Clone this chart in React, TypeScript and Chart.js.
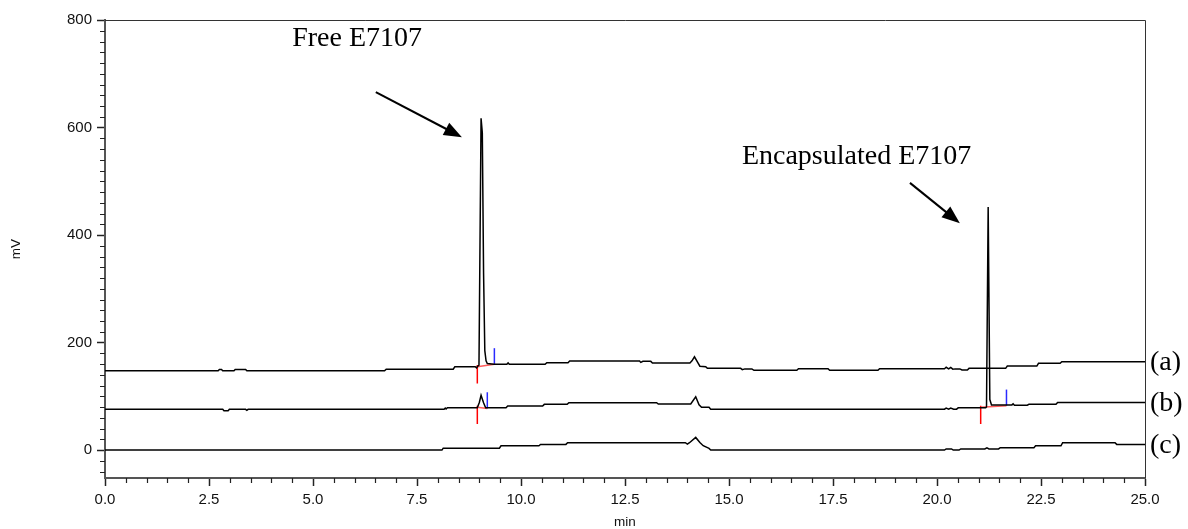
import { useEffect, useRef } from 'react';
import { Chart, registerables } from 'chart.js';

Chart.register(...registerables);

// Retention time (min) and detector signal (mV) for the three chromatograms
const traceATime = [
  0, 2.72, 2.75, 2.8, 2.83, 3.1, 3.13, 3.38, 3.41, 6.72,
  6.76, 8.37, 8.41, 8.9, 8.93, 8.96, 8.99, 9.04, 9.07, 9.1,
  9.13, 9.16, 9.19, 9.35, 9.66, 9.69, 9.72, 10.58, 10.62, 11.13,
  11.17, 12.85, 12.88, 12.93, 12.97, 13.12, 13.16, 14.06, 14.11, 14.17,
  14.24, 14.3, 14.44, 14.48, 15.28, 15.32, 15.38, 15.55, 15.6, 16.63,
  16.67, 17.38, 17.42, 18.58, 18.62, 20.18, 20.22, 20.28, 20.33, 20.38,
  20.44, 20.55, 20.6, 20.73, 20.77, 21.65, 21.69, 22.4, 22.44, 22.96,
  23.0, 25,
];
const traceAValue = [
  147.5, 147.5, 150, 150, 147.5, 147.5, 150, 150, 147.5, 147.5,
  150.5, 150.5, 155, 155, 153, 156, 158, 617, 590, 330,
  185, 166, 161, 159.5, 159.5, 162, 159.5, 159.5, 162.4, 162.4,
  165.6, 165.6, 163, 165, 165, 165, 162, 162, 166, 173.5,
  164, 156, 155, 152, 152, 149.5, 151, 151, 148.3, 148.3,
  151.3, 151.3, 148.3, 148.3, 151.3, 151.3, 154, 151, 153.5, 150.5,
  151, 151, 149, 149, 152, 152, 156.3, 156.3, 161.3, 161.3,
  164.3, 164.3,
];

const traceBTime = [
  0, 2.83, 2.86, 2.96, 2.99, 3.38, 3.41, 3.44, 8.15, 8.18,
  8.2, 8.23, 8.95, 9.0, 9.04, 9.1, 9.15, 9.64, 9.68, 10.52,
  10.56, 11.11, 11.15, 13.26, 13.3, 14.08, 14.2, 14.28, 14.34, 14.52,
  14.56, 20.18, 20.22, 20.28, 20.33, 20.4, 20.47, 20.51, 21.17, 21.19,
  21.23, 21.27, 21.31, 21.8, 21.83, 21.86, 22.17, 22.21, 22.86, 22.9,
  25,
];
const traceBValue = [
  75.7, 75.7, 73, 73, 75.7, 75.7, 74, 75.7, 75.7, 78,
  76.5, 78.7, 78.7, 89, 102, 88, 78.7, 78.7, 81.9, 81.9,
  85, 85, 88, 88, 85.6, 85.6, 99, 84, 79.4, 79.4,
  75.7, 76, 78, 76, 78, 76, 76, 78.5, 78.5, 80,
  452, 94, 84, 84, 86, 83.5, 83.5, 85, 85, 88.6,
  88.6,
];

const traceCTime = [
  0, 8.1, 8.13, 9.48, 9.52, 10.43, 10.47, 11.08, 11.12, 13.95,
  14.0, 14.05, 14.2, 14.3, 14.38, 14.52, 14.56, 20.18, 20.22, 20.35,
  20.39, 20.53, 20.57, 21.15, 21.2, 21.25, 21.48, 21.52, 22.33, 22.37,
  22.98, 23.02, 24.28, 24.32, 25,
];
const traceCValue = [
  0, 0, 3.5, 3.5, 8, 8, 10.5, 10.5, 13.6, 13.6,
  11, 13.6, 23.5, 14, 8, 3, 0, 0, 2, 2,
  0, 0, 2, 2, 4, 2, 2, 4.3, 4.3, 8,
  8, 13.6, 13.6, 10.5, 10.5,
];

const traceLabels = ['(a)', '(b)', '(c)'];

// Integration marks: peak start (red) and end (blue) with their baseline levels
const peakStart = [8.95, 8.95, 21.05];
const peakStartLevel = [155, 79.4, 79.4];
const peakEnd = [9.36, 9.19, 21.67];
const peakEndLevel = [159.5, 77.5, 82.5];

// Axis ticks
const xMajorTicks = [0, 2.5, 5, 7.5, 10, 12.5, 15, 17.5, 20, 22.5, 25];
const yMajorTicks = [0, 200, 400, 600, 800];

// Peak callouts, anchored in data units (min, mV)
const calloutText = ['Free E7107', 'Encapsulated E7107'];
const calloutTextAt = [[4.5, 752], [15.31, 533]];
const calloutArrowFrom = [[6.51, 666], [19.35, 497]];
const calloutArrowTo = [[8.58, 582], [20.55, 422]];

const SANS = '"Liberation Sans", Arial, Helvetica, sans-serif';
const SERIF = '"Liberation Serif", "Times New Roman", serif';

function toPoints(t: number[], v: number[]) {
  return t.map((x, i) => ({ x, y: v[i] }));
}

const overlayPlugin = {
  id: 'chromOverlay',
  afterDraw(chart: any) {
    const { ctx, chartArea, scales } = chart;
    const xs = scales.x;
    const ys = scales.y;
    ctx.save();

    // closing frame on top and right
    ctx.strokeStyle = '#333';
    ctx.lineWidth = 1;
    ctx.beginPath();
    ctx.moveTo(chartArea.left, Math.round(chartArea.top) + 0.5);
    ctx.lineTo(Math.round(chartArea.right) + 0.5, Math.round(chartArea.top) + 0.5);
    ctx.lineTo(Math.round(chartArea.right) + 0.5, chartArea.bottom);
    ctx.stroke();

    // minor ticks
    ctx.strokeStyle = '#222';
    ctx.lineWidth = 1.2;
    ctx.beginPath();
    for (let v = -40; v <= 780; v += 20) {
      if (v % 200 === 0) continue;
      const py = Math.round(ys.getPixelForValue(v)) + 0.5;
      ctx.moveTo(chartArea.left - 5, py);
      ctx.lineTo(chartArea.left, py);
    }
    for (let k = 1; k < 50; k++) {
      if (k % 5 === 0) continue;
      const px = Math.round(xs.getPixelForValue(k * 0.5)) + 0.5;
      ctx.moveTo(px, chartArea.bottom);
      ctx.lineTo(px, chartArea.bottom + 5);
    }
    ctx.stroke();

    // trace labels at the right end of each chromatogram
    const ends = [
      traceAValue[traceAValue.length - 1],
      traceBValue[traceBValue.length - 1],
      traceCValue[traceCValue.length - 1],
    ];
    ctx.fillStyle = '#000';
    ctx.font = `28px ${SERIF}`;
    ctx.textAlign = 'left';
    ctx.textBaseline = 'middle';
    traceLabels.forEach((lab, i) => {
      ctx.fillText(lab, chartArea.right + 5, ys.getPixelForValue(ends[i]) + 1);
    });

    // callouts
    ctx.textBaseline = 'alphabetic';
    calloutText.forEach((txt, i) => {
      ctx.fillStyle = '#000';
      ctx.fillText(txt, xs.getPixelForValue(calloutTextAt[i][0]), ys.getPixelForValue(calloutTextAt[i][1]));
      const sx = xs.getPixelForValue(calloutArrowFrom[i][0]);
      const sy = ys.getPixelForValue(calloutArrowFrom[i][1]);
      const tx = xs.getPixelForValue(calloutArrowTo[i][0]);
      const ty = ys.getPixelForValue(calloutArrowTo[i][1]);
      const len = Math.hypot(tx - sx, ty - sy);
      const ux = (tx - sx) / len;
      const uy = (ty - sy) / len;
      const head = 18;
      const half = 7;
      const bx = tx - ux * head;
      const by = ty - uy * head;
      ctx.strokeStyle = '#000';
      ctx.lineWidth = 2;
      ctx.beginPath();
      ctx.moveTo(sx, sy);
      ctx.lineTo(bx + ux * 2, by + uy * 2);
      ctx.stroke();
      ctx.beginPath();
      ctx.moveTo(tx, ty);
      ctx.lineTo(bx - uy * half, by + ux * half);
      ctx.lineTo(bx + uy * half, by - ux * half);
      ctx.closePath();
      ctx.fill();
    });

    ctx.restore();
  },
};

export default function App() {
  const canvasRef = useRef<HTMLCanvasElement | null>(null);

  useEffect(() => {
    if (!canvasRef.current) return;

    const traceStyle = {
      showLine: true,
      borderColor: '#000',
      borderWidth: 1.5,
      pointRadius: 0,
      tension: 0,
      order: 0,
    };

    const markStyle = {
      showLine: true,
      borderWidth: 1.5,
      pointRadius: 0,
      tension: 0,
      order: 1,
    };

    const marks: any[] = [];
    peakStart.forEach((t0, i) => {
      const t1 = peakEnd[i];
      const l0 = peakStartLevel[i];
      const l1 = peakEndLevel[i];
      marks.push({ ...markStyle, borderColor: '#ff5a5a', data: [{ x: t0, y: l0 }, { x: t1, y: l1 }] });
      marks.push({ ...markStyle, borderColor: '#ff0000', data: [{ x: t0, y: l0 + 3 }, { x: t0, y: l0 - 31 }] });
      marks.push({ ...markStyle, borderColor: '#2a2aff', data: [{ x: t1, y: l1 }, { x: t1, y: l1 + 30 }] });
    });

    const chart = new Chart(canvasRef.current, {
      type: 'scatter',
      data: {
        datasets: [
          { ...traceStyle, label: '(a)', data: toPoints(traceATime, traceAValue) },
          { ...traceStyle, label: '(b)', data: toPoints(traceBTime, traceBValue) },
          { ...traceStyle, label: '(c)', data: toPoints(traceCTime, traceCValue) },
          ...marks,
        ],
      },
      options: {
        responsive: false,
        animation: false,
        events: [],
        devicePixelRatio: 1,
        layout: { padding: { top: 20, right: 43, bottom: 0, left: 0 } },
        plugins: { legend: { display: false }, tooltip: { enabled: false } },
        scales: {
          x: {
            type: 'linear',
            min: 0,
            max: 25,
            afterBuildTicks: (s: any) => {
              s.ticks = xMajorTicks.map((value) => ({ value }));
            },
            afterFit: (s: any) => {
              s.height = 51;
            },
            ticks: {
              callback: (v: any) => Number(v).toFixed(1),
              font: { family: SANS, size: 15 },
              color: '#111',
              padding: 5,
              maxRotation: 0,
              autoSkip: false,
            },
            grid: { drawOnChartArea: false, tickLength: 8, tickColor: '#222', tickWidth: 1.5 },
            border: { display: true, color: '#555', width: 2 },
            title: {
              display: true,
              text: 'min',
              color: '#111',
              font: { family: SANS, size: 13.5, lineHeight: 1 },
              padding: { top: 0, bottom: 0 },
            },
          },
          y: {
            type: 'linear',
            min: -52,
            max: 800,
            afterBuildTicks: (s: any) => {
              s.ticks = yMajorTicks.map((value) => ({ value }));
            },
            afterFit: (s: any) => {
              s.width = 105;
            },
            ticks: {
              font: { family: SANS, size: 15 },
              color: '#111',
              padding: 5,
            },
            grid: { drawOnChartArea: false, tickLength: 8, tickColor: '#222', tickWidth: 1.5 },
            border: { display: true, color: '#555', width: 2 },
            title: {
              display: true,
              text: 'mV',
              color: '#111',
              font: { family: SANS, size: 13.5, lineHeight: 1 },
              padding: { top: 10, bottom: 0 },
            },
          },
        },
      },
      plugins: [overlayPlugin],
    } as any);

    return () => chart.destroy();
  }, []);

  return (
    <div style={{ position: 'absolute', left: 0, top: 0, width: 1188, height: 529, background: '#fff' }}>
      <canvas ref={canvasRef} width={1188} height={529} style={{ display: 'block' }} />
    </div>
  );
}
